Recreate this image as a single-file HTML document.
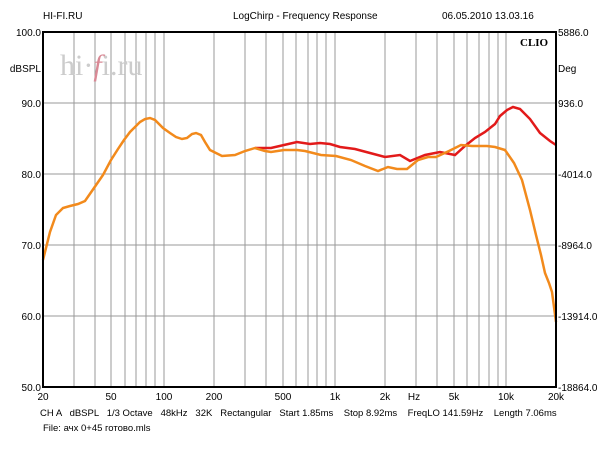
<!DOCTYPE html>
<html><head><meta charset="utf-8"><style>
body{margin:0;background:#fff;width:600px;height:450px;overflow:hidden;font-family:"Liberation Sans",sans-serif}
</style></head><body>
<svg width="600" height="450" xmlns="http://www.w3.org/2000/svg" font-family="Liberation Sans, sans-serif" font-size="10">
<text x="43" y="19">HI-FI.RU</text>
<text x="233" y="19">LogChirp - Frequency Response</text>
<text x="442" y="19">06.05.2010 13.03.16</text>
<g stroke="#999" stroke-width="1">
<line x1="74" y1="32" x2="74" y2="387"/><line x1="95" y1="32" x2="95" y2="387"/><line x1="111" y1="32" x2="111" y2="387"/><line x1="125" y1="32" x2="125" y2="387"/><line x1="136" y1="32" x2="136" y2="387"/><line x1="146" y1="32" x2="146" y2="387"/><line x1="155" y1="32" x2="155" y2="387"/><line x1="164" y1="32" x2="164" y2="387"/>
<line x1="214" y1="32" x2="214" y2="387"/><line x1="245" y1="32" x2="245" y2="387"/><line x1="266" y1="32" x2="266" y2="387"/><line x1="283" y1="32" x2="283" y2="387"/><line x1="296" y1="32" x2="296" y2="387"/><line x1="308" y1="32" x2="308" y2="387"/><line x1="317" y1="32" x2="317" y2="387"/><line x1="326" y1="32" x2="326" y2="387"/><line x1="335" y1="32" x2="335" y2="387"/>
<line x1="385" y1="32" x2="385" y2="387"/><line x1="416" y1="32" x2="416" y2="387"/><line x1="437" y1="32" x2="437" y2="387"/><line x1="454" y1="32" x2="454" y2="387"/><line x1="467" y1="32" x2="467" y2="387"/><line x1="479" y1="32" x2="479" y2="387"/><line x1="489" y1="32" x2="489" y2="387"/><line x1="498" y1="32" x2="498" y2="387"/><line x1="506" y1="32" x2="506" y2="387"/>
<line x1="43" y1="103" x2="556" y2="103"/><line x1="43" y1="174" x2="556" y2="174"/><line x1="43" y1="245" x2="556" y2="245"/><line x1="43" y1="316" x2="556" y2="316"/>
</g>
<text x="60" y="75" font-family="Liberation Serif, serif" font-size="30" fill="#ccc">hi·<tspan fill="#d98a96" font-style="italic">f</tspan>i.ru</text>
<polyline fill="none" stroke="#e21a1a" stroke-width="2.5" points="255,148 271,148 284,145 297,142 310,144 320,143 330,144 340,147 355,149 370,153 385,157 400,155 410,161 425,155 440,152 455,155 465,146 475,138 485,132 495,124 500,116 507,110 513,107 520,109 530,119 540,133 550,141 556,145"/>
<polyline fill="none" stroke="#f28a1c" stroke-width="2.5" points="43,260 50,232 56,215 63,208 70,206 78,204 85,201 94,188 103,175 111,160 118,149 124,140 130,132 135,127 140,122 145,119 150,118 155,120 163,128 170,133 176,137 182,139 187,138 192,134 196,133 201,135 205,142 210,150 222,156 235,155 245,151 255,148 265,151 271,152 284,150 297,150 305,151 321,155 336,156 351,160 365,166 378,171 388,167 397,169 407,169 418,160 428,157 436,157 449,151 461,145 472,146 487,146 495,147 505,150 514,163 522,180 530,210 536,235 541,255 545,273 549,283 552,292 556,322"/>
<rect x="43" y="32" width="513" height="355" fill="none" stroke="#000" stroke-width="2"/>
<text x="520" y="46" font-family="Liberation Serif, serif" font-weight="bold" font-size="11">CLIO</text>
<g text-anchor="end">
<text x="41" y="36">100.0</text><text x="41" y="72">dBSPL</text><text x="41" y="107">90.0</text><text x="41" y="178">80.0</text><text x="41" y="249">70.0</text><text x="41" y="320">60.0</text><text x="41" y="391">50.0</text>
</g>
<g>
<text x="558" y="36">5886.0</text><text x="558" y="72">Deg</text><text x="558" y="107">936.0</text><text x="558" y="178">-4014.0</text><text x="558" y="249">-8964.0</text><text x="558" y="320">-13914.0</text><text x="558" y="391">-18864.0</text>
</g>
<g text-anchor="middle">
<text x="43" y="400">20</text><text x="111" y="400">50</text><text x="164" y="400">100</text><text x="214" y="400">200</text><text x="283" y="400">500</text><text x="335" y="400">1k</text><text x="385" y="400">2k</text><text x="414" y="400">Hz</text><text x="454" y="400">5k</text><text x="506" y="400">10k</text><text x="556" y="400">20k</text>
</g>
<text x="40" y="416" font-size="9.5" xml:space="preserve">CH A   dBSPL   1/3 Octave   48kHz   32K   Rectangular   Start 1.85ms    Stop 8.92ms    FreqLO 141.59Hz    Length 7.06ms</text>
<text x="43" y="431" font-size="9.5">File: ачх 0+45 готово.mls</text>
</svg>
</body></html>
